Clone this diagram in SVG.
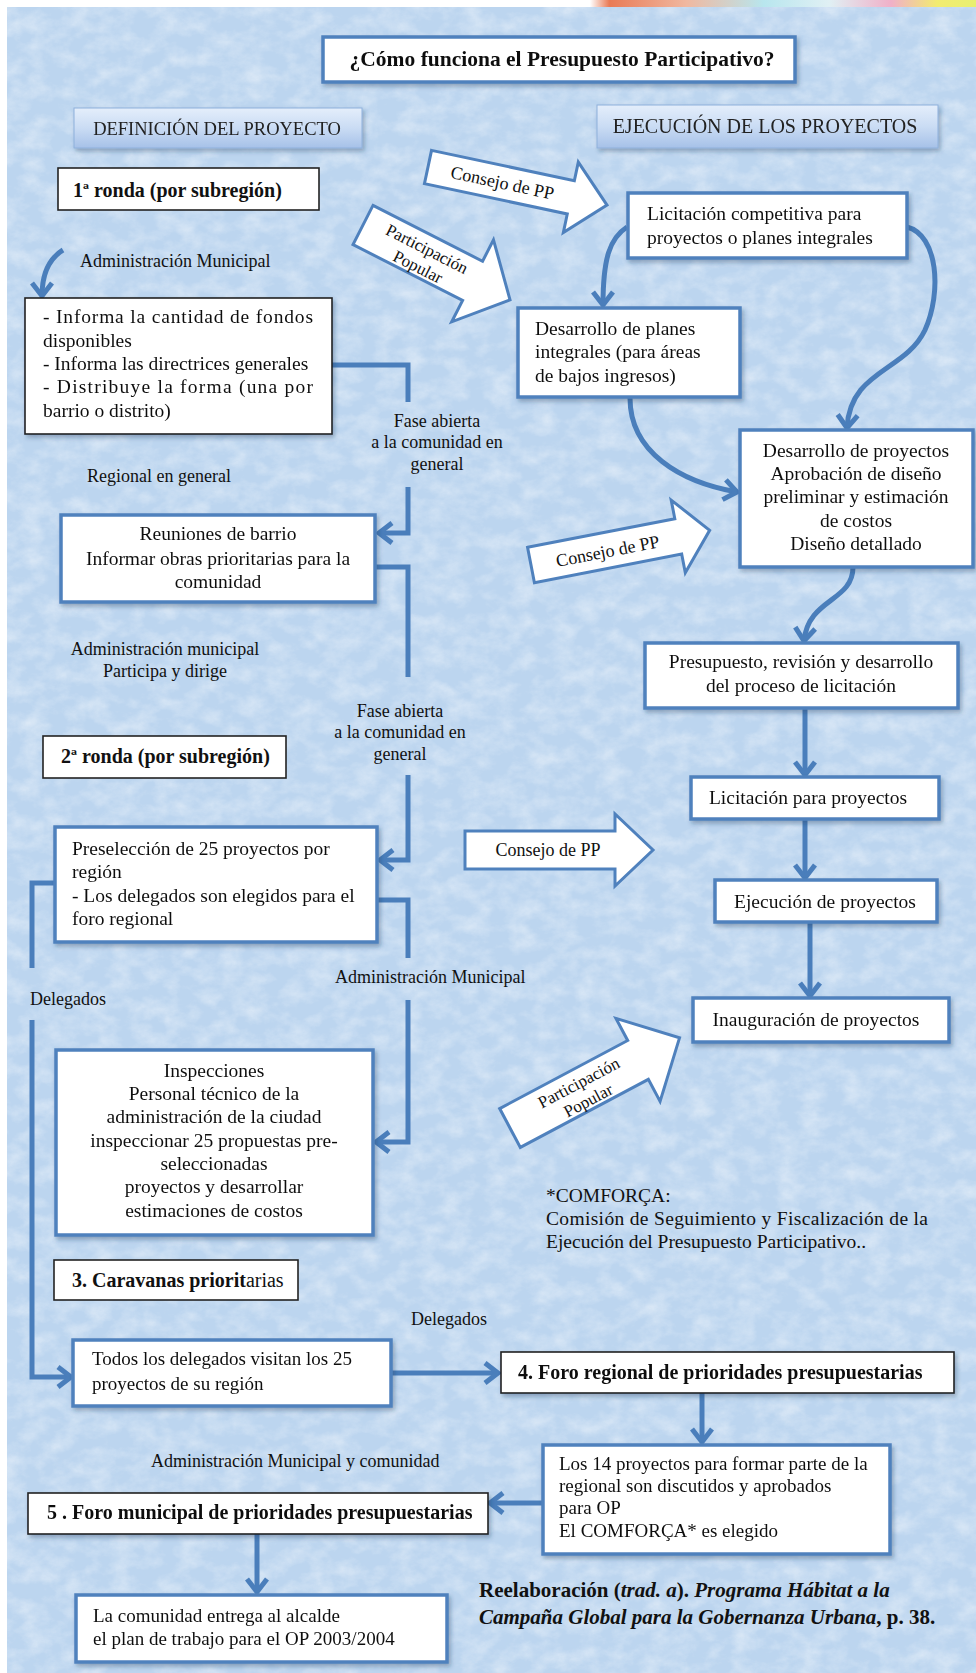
<svg xmlns="http://www.w3.org/2000/svg" width="976" height="1673" viewBox="0 0 976 1673">
<defs>
<style>
.t{font-family:"Liberation Serif","Times New Roman",serif;fill:#111}
.b{font-size:19.5px}
.s{font-size:19px}
.l{font-size:18px}
.hb{font-size:20px;font-weight:bold}
.c{text-anchor:middle}
.bx{fill:#fff;stroke:#4f81bd;stroke-width:3.5}
.kx{fill:#fff;stroke:#222;stroke-width:1.6}
.cn{fill:none;stroke:#4a7ebb;stroke-width:5}
.ar{marker-end:url(#ah)}
.ba{fill:#fff;stroke:#4f81bd;stroke-width:3}
.hd{fill:url(#hg);stroke:#8eb0dc;stroke-width:1}
</style>
<linearGradient id="hg" x1="0" y1="0" x2="0" y2="1">
<stop offset="0" stop-color="#e4eefb"/>
<stop offset="0.5" stop-color="#cadcf4"/>
<stop offset="1" stop-color="#a6c1e8"/>
</linearGradient>
<linearGradient id="topg" x1="0" y1="0" x2="1" y2="0">
<stop offset="0" stop-color="#ffffff"/>
<stop offset="0.05" stop-color="#e97a55"/>
<stop offset="0.25" stop-color="#f0b8a0"/>
<stop offset="0.45" stop-color="#b8e6ee"/>
<stop offset="0.62" stop-color="#e0f0f4"/>
<stop offset="0.78" stop-color="#f0b0c8"/>
<stop offset="0.9" stop-color="#f2ec70"/>
<stop offset="1" stop-color="#e8f070"/>
</linearGradient>
<filter id="tex" x="0" y="0" width="100%" height="100%">
<feTurbulence type="fractalNoise" baseFrequency="0.045 0.06" numOctaves="5" seed="11" result="n"/>
<feColorMatrix in="n" type="matrix" values="0 0 0 0 1  0 0 0 0 1  0 0 0 0 1  1.5 0 0 0 -0.55"/>
</filter>
<filter id="sh" x="-10%" y="-10%" width="125%" height="140%">
<feDropShadow dx="2" dy="3" stdDeviation="2" flood-color="#1f3a60" flood-opacity="0.35"/>
</filter>
<marker id="ah" viewBox="-2 -2 24 24" refX="16" refY="10" markerWidth="24" markerHeight="24" markerUnits="userSpaceOnUse" orient="auto" overflow="visible">
<path d="M3,0 L16,10 L3,20" fill="none" stroke="#4a7ebb" stroke-width="5"/>
</marker>
</defs>

<rect width="976" height="1673" fill="#fff"/>
<rect x="7" y="7" width="969" height="1666" fill="#bcd5ef"/>
<rect x="7" y="7" width="969" height="1666" fill="#fff" filter="url(#tex)" opacity="0.5"/>
<rect x="590" y="0" width="386" height="7" fill="url(#topg)"/>

<g id="connectors">
<path class="cn ar" d="M63,250 C50,258 42,272 42,296"/>
<path class="cn" d="M332,365 L408,365 L408,402"/>
<path class="cn ar" d="M408,487 L408,533 L379,533"/>
<path class="cn" d="M375,567 L408,567 L408,677"/>
<path class="cn ar" d="M408,775 L408,860 L380,860"/>
<path class="cn" d="M377,900 L408,900 L408,958"/>
<path class="cn ar" d="M408,1000 L408,1142 L376,1142"/>
<path class="cn" d="M55,883 L32,883 L32,968"/>
<path class="cn ar" d="M32,1020 L32,1377 L71,1377"/>
<path class="cn ar" d="M391,1373 L498,1373"/>
<path class="cn ar" d="M702,1393 L702,1442"/>
<path class="cn ar" d="M543,1503 L490,1503"/>
<path class="cn ar" d="M257,1534 L257,1592"/>
<path class="cn ar" d="M627,227 C610,238 603,258 603,305"/>
<path class="cn ar" d="M907,227 C938,235 942,292 925,330 C905,372 850,370 847,428"/>
<path class="cn ar" d="M630,398 C630,452 680,482 737,492"/>
<path class="cn ar" d="M853,567 C853,602 808,598 804,641"/>
<path class="cn ar" d="M805,708 L805,775"/>
<path class="cn ar" d="M805,819 L805,878"/>
<path class="cn ar" d="M810,922 L810,996"/>
</g>

<g id="title" filter="url(#sh)">
<rect class="bx" x="323" y="37" width="472" height="45" stroke-width="4"/>
<text class="t c" x="562" y="66" style="font-size:21.5px;font-weight:bold">¿Cómo funciona el Presupuesto Participativo?</text>
</g>

<g id="hdr-definicion" filter="url(#sh)">
<rect class="hd" x="74" y="108" width="288" height="40"/>
<text class="t c" x="217" y="135" style="font-size:18.5px;fill:#222">DEFINICIÓN DEL PROYECTO</text>
</g>
<g id="hdr-ejecucion" filter="url(#sh)">
<rect class="hd" x="597" y="105" width="341" height="43"/>
<text class="t c" x="765" y="133" style="font-size:20px;fill:#222">EJECUCIÓN DE LOS PROYECTOS</text>
</g>

<g id="ronda1">
<rect class="kx" x="58" y="168" width="261" height="42"/>
<text class="t hb" x="73" y="197">1ª  ronda (por subregión)</text>
</g>
<text id="lbl-admin1" class="t l" x="80" y="267">Administración Municipal</text>

<g id="n-informa" filter="url(#sh)">
<rect class="kx" x="25" y="298" width="307" height="136"/>
<text class="t b" x="43" y="323" textLength="270" lengthAdjust="spacing">- Informa la cantidad de fondos</text>
<text class="t b" x="43" y="347">disponibles</text>
<text class="t b" x="43" y="370">- Informa las directrices generales</text>
<text class="t b" x="43" y="393" textLength="270" lengthAdjust="spacing">- Distribuye la forma (una por</text>
<text class="t b" x="43" y="417">barrio o distrito)</text>
</g>

<g id="lbl-fase1" class="t l c">
<text x="437" y="427">Fase abierta</text>
<text x="437" y="448">a la comunidad en</text>
<text x="437" y="470">general</text>
</g>
<text id="lbl-regional" class="t l" x="87" y="482">Regional  en general</text>

<g id="n-reuniones" filter="url(#sh)">
<rect class="bx" x="61" y="515" width="314" height="87"/>
<text class="t b c" x="218" y="540">Reuniones de barrio</text>
<text class="t b c" x="218" y="565">Informar obras prioritarias para la</text>
<text class="t b c" x="218" y="588">comunidad</text>
</g>

<g id="lbl-admin2" class="t l c">
<text x="165" y="655">Administración municipal</text>
<text x="165" y="677">Participa y dirige</text>
</g>
<g id="lbl-fase2" class="t l c">
<text x="400" y="717">Fase abierta</text>
<text x="400" y="738">a la comunidad en</text>
<text x="400" y="760">general</text>
</g>

<g id="ronda2">
<rect class="kx" x="43" y="736" width="243" height="42"/>
<text class="t hb" x="61" y="763">2ª ronda (por subregión)</text>
</g>

<g id="n-preseleccion" filter="url(#sh)">
<rect class="bx" x="55" y="827" width="322" height="115"/>
<text class="t b" x="72" y="855">Preselección de 25 proyectos por</text>
<text class="t b" x="72" y="878">región</text>
<text class="t b" x="72" y="902">- Los delegados son elegidos para el</text>
<text class="t b" x="72" y="925">foro regional</text>
</g>

<text id="lbl-delegados1" class="t l" x="30" y="1005">Delegados</text>
<text id="lbl-admin3" class="t l" x="335" y="983">Administración Municipal</text>

<g id="n-inspecciones" filter="url(#sh)">
<rect class="bx" x="56" y="1050" width="317" height="185"/>
<g class="t b c">
<text x="214" y="1077">Inspecciones</text>
<text x="214" y="1100">Personal técnico de la</text>
<text x="214" y="1123">administración de la ciudad</text>
<text x="214" y="1147">inspeccionar 25 propuestas pre-</text>
<text x="214" y="1170">seleccionadas</text>
<text x="214" y="1193">proyectos y desarrollar</text>
<text x="214" y="1217">estimaciones de costos</text>
</g>
</g>

<g id="ronda3">
<rect class="kx" x="54" y="1260" width="244" height="40"/>
<text class="t" x="72" y="1287" style="font-size:20px"><tspan font-weight="bold">3. Caravanas priorit</tspan>arias</text>
</g>

<text id="lbl-delegados2" class="t l" x="411" y="1325">Delegados</text>

<g id="n-todos" filter="url(#sh)">
<rect class="bx" x="73" y="1340" width="318" height="66"/>
<text class="t s" x="92" y="1365">Todos los delegados visitan los 25</text>
<text class="t s" x="92" y="1390">proyectos de su región</text>
</g>

<g id="n-foro-regional" filter="url(#sh)">
<rect class="kx" x="501" y="1352" width="453" height="41"/>
<text class="t hb" x="518" y="1379">4. Foro regional de prioridades presupuestarias</text>
</g>

<g id="n-los14" filter="url(#sh)">
<rect class="bx" x="543" y="1445" width="347" height="109"/>
<text class="t s" x="559" y="1470">Los 14 proyectos para formar parte de la</text>
<text class="t s" x="559" y="1492">regional  son discutidos y aprobados</text>
<text class="t s" x="559" y="1514">para OP</text>
<text class="t s" x="559" y="1537">El COMFORÇA*  es elegido</text>
</g>

<text id="lbl-admin4" class="t l" x="151" y="1467">Administración Municipal y comunidad</text>

<g id="n-foro-municipal" filter="url(#sh)">
<rect class="kx" x="28" y="1493" width="460" height="41"/>
<text class="t hb" x="47" y="1519">5 . Foro municipal de prioridades presupuestarias</text>
</g>

<g id="n-comunidad" filter="url(#sh)">
<rect class="bx" x="76" y="1595" width="371" height="67"/>
<text class="t s" x="93" y="1622">La comunidad entrega al alcalde</text>
<text class="t s" x="93" y="1645">el plan de trabajo para el OP 2003/2004</text>
</g>

<g id="citation" class="t" style="font-size:21px;font-weight:bold">
<text x="479" y="1597">Reelaboración (<tspan font-style="italic">trad. a</tspan>). <tspan font-style="italic">Programa Hábitat a la</tspan></text>
<text x="479" y="1624"><tspan font-style="italic">Campaña Global para la Gobernanza Urbana</tspan>, p. 38.</text>
</g>

<g id="n-lic-comp" filter="url(#sh)">
<rect class="bx" x="628" y="193" width="279" height="65"/>
<text class="t b" x="647" y="220">Licitación competitiva para</text>
<text class="t b" x="647" y="244">proyectos o planes integrales</text>
</g>

<g id="n-des-planes" filter="url(#sh)">
<rect class="bx" x="518" y="308" width="222" height="89"/>
<text class="t b" x="535" y="335">Desarrollo de planes</text>
<text class="t b" x="535" y="358">integrales (para áreas</text>
<text class="t b" x="535" y="382">de bajos ingresos)</text>
</g>

<g id="n-des-proy" filter="url(#sh)">
<rect class="bx" x="740" y="430" width="233" height="137"/>
<g class="t b c">
<text x="856" y="457">Desarrollo de proyectos</text>
<text x="856" y="480">Aprobación de diseño</text>
<text x="856" y="503">preliminar y estimación</text>
<text x="856" y="527">de costos</text>
<text x="856" y="550">Diseño detallado</text>
</g>
</g>

<g id="n-presupuesto" filter="url(#sh)">
<rect class="bx" x="645" y="643" width="313" height="65"/>
<text class="t b c" x="801" y="668">Presupuesto, revisión y desarrollo</text>
<text class="t b c" x="801" y="692">del proceso de licitación</text>
</g>

<g id="n-lic-proy" filter="url(#sh)">
<rect class="bx" x="691" y="777" width="248" height="42"/>
<text class="t b c" x="808" y="804">Licitación para proyectos</text>
</g>

<g id="n-ejecucion" filter="url(#sh)">
<rect class="bx" x="715" y="880" width="222" height="42"/>
<text class="t b c" x="825" y="908">Ejecución de proyectos</text>
</g>

<g id="n-inauguracion" filter="url(#sh)">
<rect class="bx" x="693" y="998" width="256" height="44"/>
<text class="t b c" x="816" y="1026">Inauguración de proyectos</text>
</g>

<g id="note-comforca" class="t b">
<text x="546" y="1202">*COMFORÇA:</text>
<text x="546" y="1225" textLength="382" lengthAdjust="spacing">Comisión de Seguimiento y Fiscalización de la</text>
<text x="546" y="1248">Ejecución del Presupuesto Participativo..</text>
</g>

<g id="ba-consejo1" transform="translate(428,167) rotate(12)">
<path class="ba" d="M0,-17 L146,-17 L146,-36 L183,0 L146,36 L146,17 L0,17 Z"/>
<text class="t l c" x="76" y="6">Consejo de PP</text>
</g>
<g id="ba-participacion1" transform="translate(363,225) rotate(27)">
<path class="ba" d="M0,-22 L123,-22 L123,-46 L165,0 L123,46 L123,22 L0,22 Z"/>
<text class="t c" x="68" y="-2" style="font-size:17px">Participación</text>
<text class="t c" x="68" y="18" style="font-size:17px">Popular</text>
</g>
<g id="ba-consejo2" transform="translate(531,565) rotate(-11)">
<path class="ba" d="M0,-18 L150,-18 L150,-37 L182,0 L150,37 L150,18 L0,18 Z"/>
<text class="t l c" x="78" y="7">Consejo de PP</text>
</g>
<g id="ba-consejo3" transform="translate(465,850)">
<path class="ba" d="M0,-19 L150,-19 L150,-36 L188,0 L150,36 L150,19 L0,19 Z"/>
<text class="t l c" x="83" y="6">Consejo de PP</text>
</g>
<g id="ba-participacion2" transform="translate(510,1128) rotate(-28)">
<path class="ba" d="M0,-22 L145,-22 L145,-47 L192,0 L145,47 L145,22 L0,22 Z"/>
<text class="t c" x="82" y="-2" style="font-size:17px">Participación</text>
<text class="t c" x="82" y="18" style="font-size:17px">Popular</text>
</g>
</svg>
